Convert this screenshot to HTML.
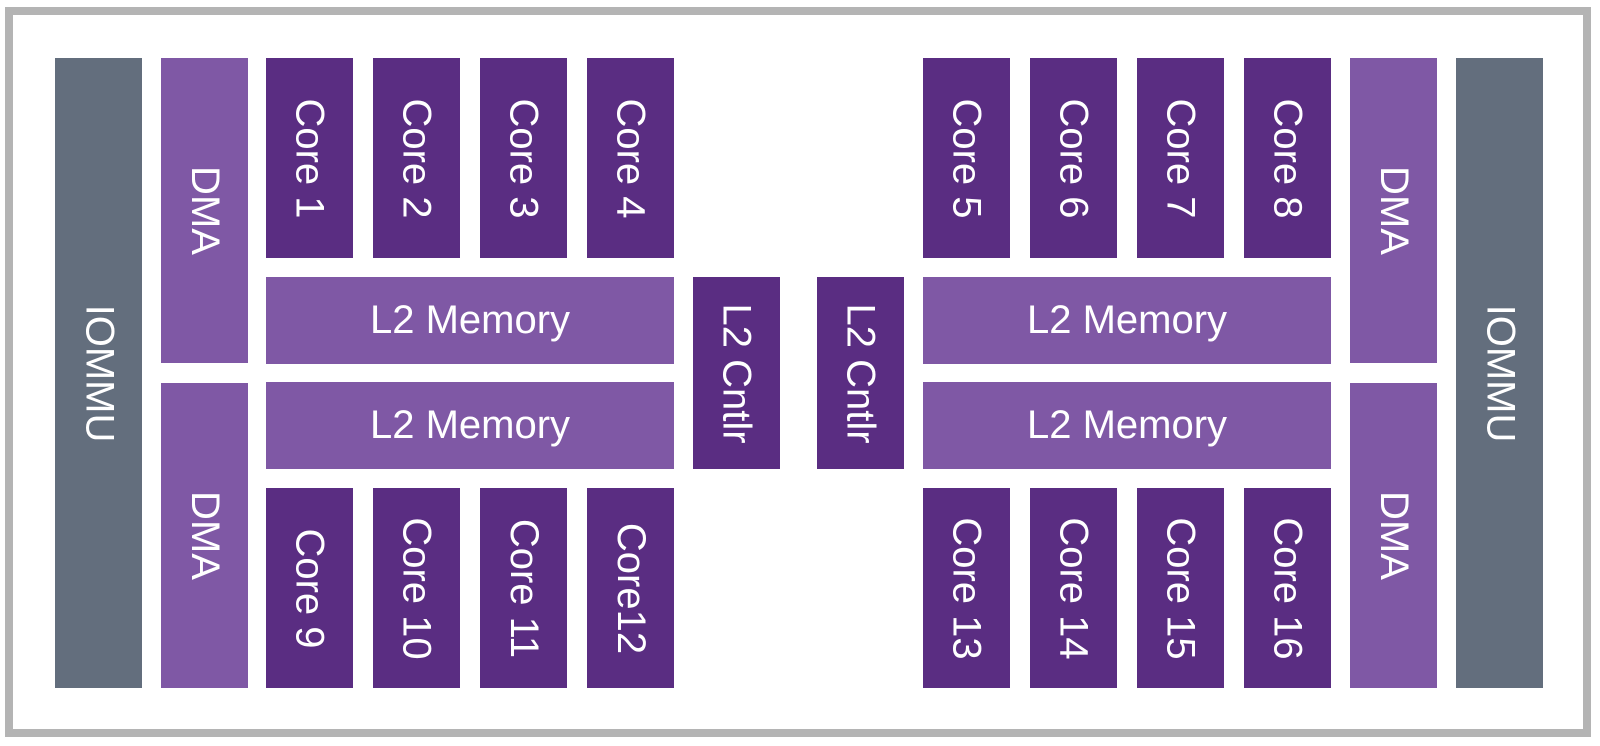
<!DOCTYPE html>
<html><head><meta charset="utf-8"><style>
html,body{margin:0;padding:0;background:#fff;}
body{width:1600px;height:746px;position:relative;overflow:hidden;font-family:"Liberation Sans",sans-serif;}
.frame{position:absolute;left:5px;top:7px;width:1570px;height:714px;border:8px solid #b4b4b4;}
.b{position:absolute;display:flex;align-items:center;justify-content:center;color:#fff;font-size:40px;white-space:nowrap;}
.b span{display:block;}
.v span{transform:rotate(90deg);}
.d{background:#5a2d82;}
.l{background:#7f58a5;}
.g{background:#636e7d;}
</style></head><body>
<div class="frame"></div>
<div class="b v g" style="left:55px;top:58px;width:87px;height:630px"><span>IOMMU</span></div>
<div class="b v l" style="left:161px;top:58px;width:87px;height:305px"><span>DMA</span></div>
<div class="b v l" style="left:161px;top:383px;width:87px;height:305px"><span>DMA</span></div>

<div class="b v d" style="left:266px;top:58px;width:87px;height:200px"><span>Core 1</span></div>
<div class="b v d" style="left:373px;top:58px;width:87px;height:200px"><span>Core 2</span></div>
<div class="b v d" style="left:480px;top:58px;width:87px;height:200px"><span>Core 3</span></div>
<div class="b v d" style="left:587px;top:58px;width:87px;height:200px"><span>Core 4</span></div>
<div class="b l" style="left:266px;top:277px;width:408px;height:87px"><span>L2 Memory</span></div>
<div class="b l" style="left:266px;top:382px;width:408px;height:87px"><span>L2 Memory</span></div>
<div class="b v d" style="left:266px;top:488px;width:87px;height:200px"><span>Core 9</span></div>
<div class="b v d" style="left:373px;top:488px;width:87px;height:200px"><span>Core 10</span></div>
<div class="b v d" style="left:480px;top:488px;width:87px;height:200px"><span>Core 11</span></div>
<div class="b v d" style="left:587px;top:488px;width:87px;height:200px"><span>Core12</span></div>

<div class="b v d" style="left:693px;top:277px;width:87px;height:192px"><span>L2 Cntlr</span></div>
<div class="b v d" style="left:817px;top:277px;width:87px;height:192px"><span>L2 Cntlr</span></div>

<div class="b v d" style="left:923px;top:58px;width:87px;height:200px"><span>Core 5</span></div>
<div class="b v d" style="left:1030px;top:58px;width:87px;height:200px"><span>Core 6</span></div>
<div class="b v d" style="left:1137px;top:58px;width:87px;height:200px"><span>Core 7</span></div>
<div class="b v d" style="left:1244px;top:58px;width:87px;height:200px"><span>Core 8</span></div>
<div class="b l" style="left:923px;top:277px;width:408px;height:87px"><span>L2 Memory</span></div>
<div class="b l" style="left:923px;top:382px;width:408px;height:87px"><span>L2 Memory</span></div>
<div class="b v d" style="left:923px;top:488px;width:87px;height:200px"><span>Core 13</span></div>
<div class="b v d" style="left:1030px;top:488px;width:87px;height:200px"><span>Core 14</span></div>
<div class="b v d" style="left:1137px;top:488px;width:87px;height:200px"><span>Core 15</span></div>
<div class="b v d" style="left:1244px;top:488px;width:87px;height:200px"><span>Core 16</span></div>

<div class="b v l" style="left:1350px;top:58px;width:87px;height:305px"><span>DMA</span></div>
<div class="b v l" style="left:1350px;top:383px;width:87px;height:305px"><span>DMA</span></div>
<div class="b v g" style="left:1456px;top:58px;width:87px;height:630px"><span>IOMMU</span></div>
</body></html>
